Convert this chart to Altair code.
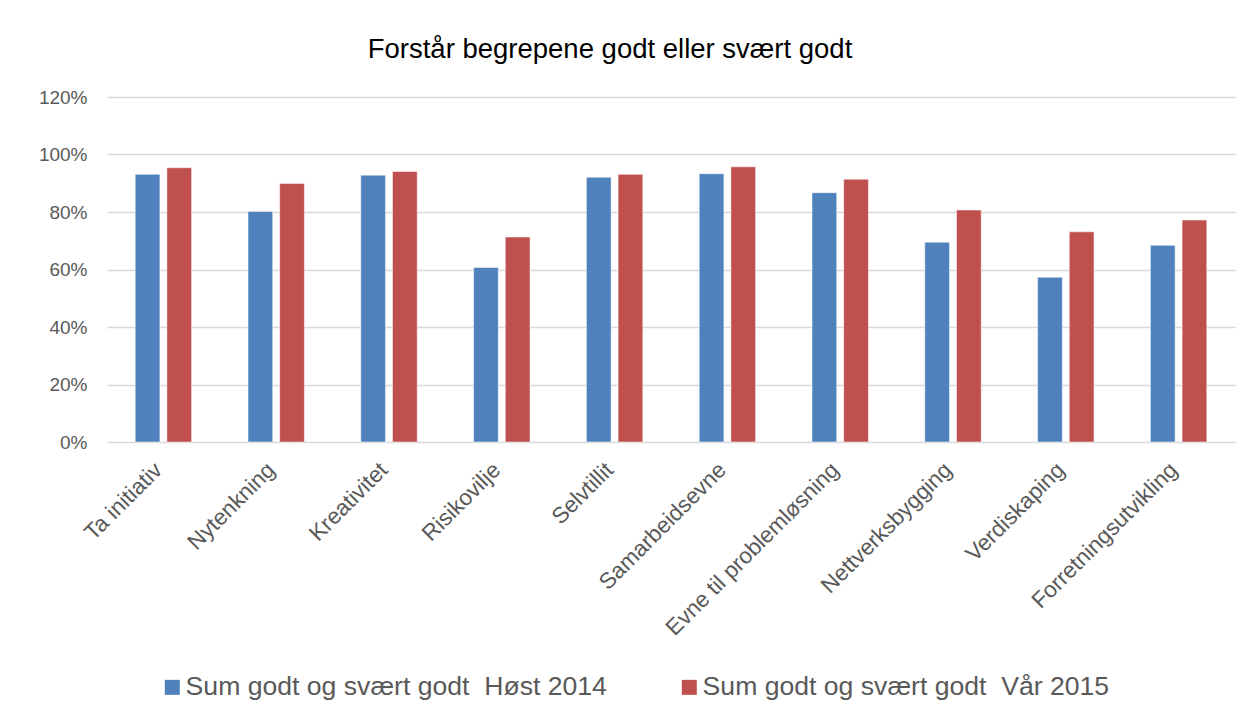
import altair as alt
import pandas as pd

categories = ["Ta initiativ", "Nytenkning", "Kreativitet", "Risikovilje", "Selvtillit",
              "Samarbeidsevne", "Evne til problemløsning", "Nettverksbygging",
              "Verdiskaping", "Forretningsutvikling"]
series = ["Sum godt og svært godt \u00a0Høst 2014", "Sum godt og svært godt \u00a0Vår 2015"]
host_2014 = [0.931, 0.802, 0.928, 0.607, 0.921, 0.933, 0.867, 0.695, 0.573, 0.684]
var_2015 = [0.954, 0.899, 0.941, 0.713, 0.931, 0.957, 0.914, 0.807, 0.731, 0.772]
colors = ["#4F81BD", "#C0504D"]

rows = []
for i, c in enumerate(categories):
    rows.append({"kategori": c, "serie": series[0], "verdi": host_2014[i]})
    rows.append({"kategori": c, "serie": series[1], "verdi": var_2015[i]})
df = pd.DataFrame(rows)

FONT = "Liberation Sans"

chart = alt.Chart(df).mark_bar(stroke="white", strokeWidth=0.5).encode(
    x=alt.X("kategori:N", sort=categories, title=None,
            scale=alt.Scale(paddingInner=0.5, paddingOuter=0.25),
            axis=alt.Axis(labelAngle=-45, labelFontSize=22.5, labelColor="#595959",
                          labelFont=FONT, domain=False, ticks=False, labelPadding=29,
                          labelAlign="right", labelBaseline="alphabetic",
                          labelLimit=400)),
    xOffset=alt.XOffset("serie:N", sort=series, scale=alt.Scale(paddingInner=0.22)),
    y=alt.Y("verdi:Q", title=None,
            scale=alt.Scale(domain=[0, 1.2], nice=False),
            axis=alt.Axis(format=".0%", values=[0, 0.2, 0.4, 0.6, 0.8, 1.0, 1.2],
                          labelFontSize=19, labelColor="#595959", labelFont=FONT,
                          domain=False, ticks=False, labelPadding=20,
                          gridColor="#D9D9D9", gridWidth=1.5)),
    color=alt.Color("serie:N", sort=series,
                    scale=alt.Scale(domain=series, range=colors),
                    legend=alt.Legend(title=None, orient="none", direction="horizontal",
                                      legendX=52, legendY=577,
                                      symbolType="square", symbolSize=225,
                                      symbolStrokeWidth=0,
                                      labelFontSize=26.6, labelColor="#595959",
                                      labelFont=FONT, labelLimit=600,
                                      columnPadding=69, labelOffset=0)),
).properties(
    width=1128, height=345,
    title=alt.TitleParams("Forstår begrepene godt eller svært godt", fontSize=27.5,
                          font=FONT, fontWeight="normal", color="#000000",
                          anchor="middle", offset=25, dx=-61),
    autosize=alt.AutoSizeParams(type="none"),
    padding={"left": 99, "top": 89, "right": 9, "bottom": 276},
).configure_view(stroke=None)

chart.save("out.html", embed_options={"renderer": "svg", "actions": False})
